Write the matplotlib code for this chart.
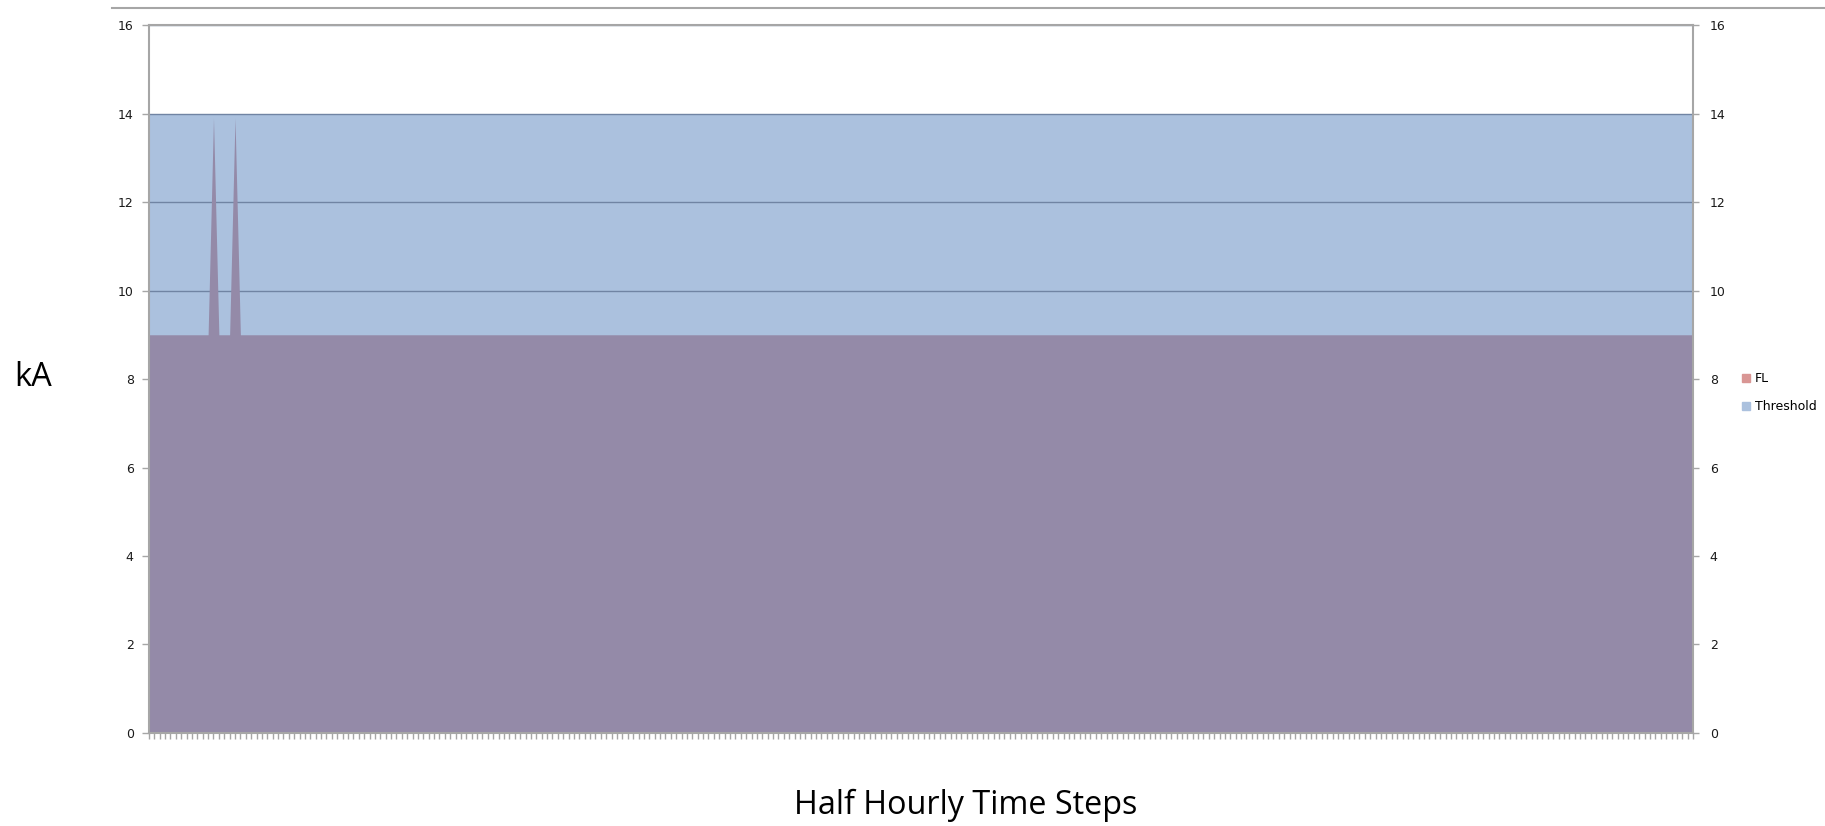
import numpy as np
from matplotlib import pyplot as plt
from matplotlib.lines import Line2D

# values
n_steps = 288
fl_base = 9.0
fl_spike_steps = [12, 16]
fl_spike_values = [13.9, 13.9]
threshold_level = 14.0
y_ticks = [0, 2, 4, 6, 8, 10, 12, 14, 16]
series_names = ["FL", "Threshold"]

steps = np.arange(n_steps)
fl = np.full(n_steps, fl_base)
fl[fl_spike_steps] = fl_spike_values
threshold = np.full(n_steps, threshold_level)

FRAME = "#a6a6a6"
TEXT = "#1a1a1a"
BLUE = "#abc1de"
PURPLE = "#948aa8"
PINK = "#d99694"

fig = plt.figure(figsize=(18.25, 8.26), dpi=100)
ax = fig.add_axes([0.0816, 0.1126, 0.8461, 0.8571])

ax.fill_between(steps, 0, threshold, color=BLUE, linewidth=0, zorder=1)
for y in y_ticks[1:]:
    ax.axhline(y, color="#7084a3", linewidth=1.0, zorder=2)
ax.fill_between(steps, 0, fl, color=PURPLE, linewidth=0, zorder=3)

ax.set_xlim(0, n_steps - 1)
ax.set_ylim(0, 16)
ax.set_yticks(y_ticks)
ax.set_xticks(steps)
ax.set_xticklabels([])
ax.tick_params(axis="x", length=4, width=1, color=FRAME, direction="out")
ax.tick_params(axis="y", length=5, width=1, color=FRAME, pad=6,
               labelsize=9, labelcolor=TEXT)
for side in ["left", "right", "top", "bottom"]:
    ax.spines[side].set_color(FRAME)
    ax.spines[side].set_linewidth(1.5)
    ax.spines[side].set_zorder(5)

ax2 = ax.twinx()
ax2.set_ylim(0, 16)
ax2.set_yticks(y_ticks)
ax2.tick_params(axis="y", length=4, width=1, color=FRAME, pad=8,
                labelsize=9, labelcolor=TEXT)
for side in ["left", "right", "top", "bottom"]:
    ax2.spines[side].set_visible(False)

# the line across the top of the picture
fig.add_artist(Line2D([112 / 1825, 1.0], [1 - 8 / 826, 1 - 8 / 826],
                      color=FRAME, linewidth=1.5))

fig.text(33 / 1825, 1 - 378 / 826, "kA", fontsize=23.5, family="Open Sans",
         ha="center", va="center", color="black")
fig.text(966 / 1825, 1 - 805 / 826, "Half Hourly Time Steps", fontsize=23.3,
         family="Open Sans", ha="center", va="center", color="black")

handles = [Line2D([], [], marker="s", linestyle="", markersize=6,
                  markerfacecolor=c, markeredgecolor=c)
           for c in [PINK, BLUE]]
fig.legend(handles, series_names, loc="upper left",
           bbox_to_anchor=(1737 / 1825, 1 - 367 / 826), frameon=False,
           fontsize=9, handlelength=0.6, handletextpad=0.45,
           labelspacing=1.2, borderaxespad=0)

fig.savefig("out.png", dpi=100)
